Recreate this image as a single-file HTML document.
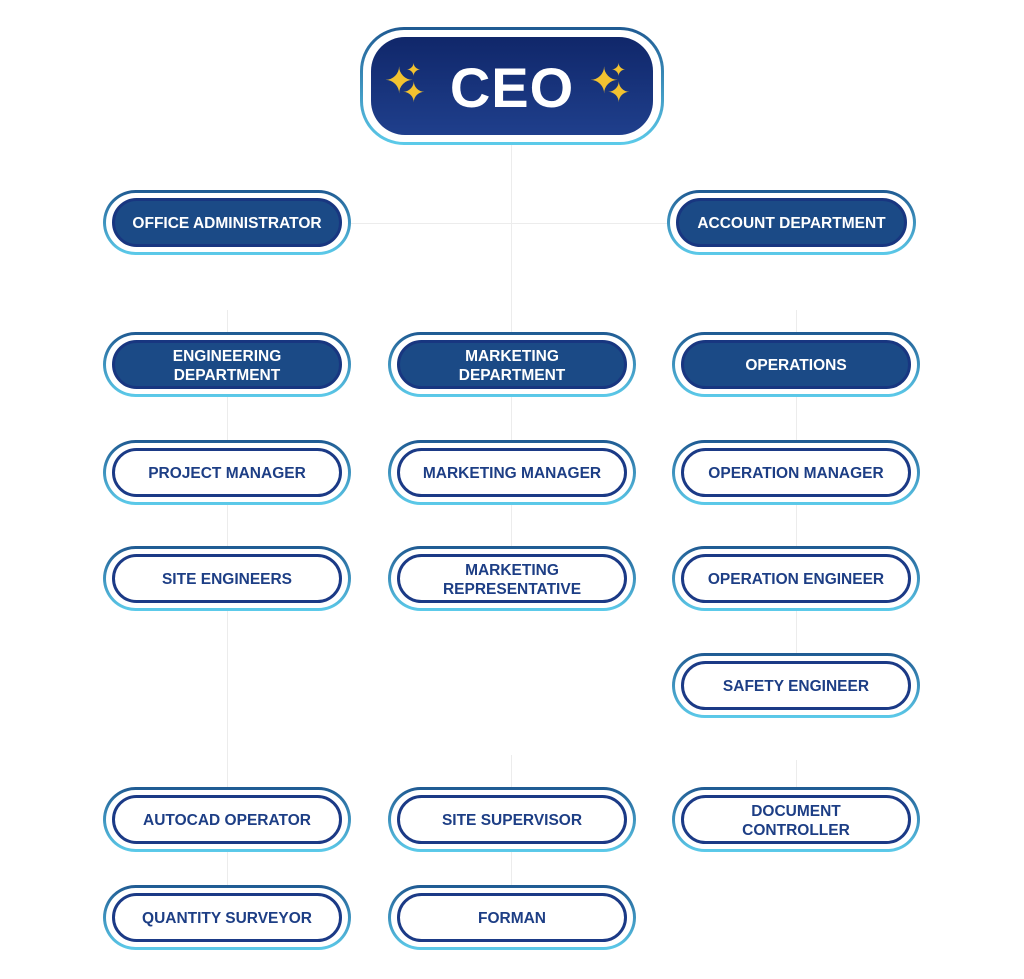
<!DOCTYPE html>
<html><head><meta charset="utf-8"><style>
body{margin:0;width:1024px;height:979px;background:#fff;position:relative;overflow:hidden;font-family:"Liberation Sans",sans-serif}
.n{position:absolute;border-radius:34px;background:linear-gradient(#1f5a92,#5ccbea)}
.n .w{position:absolute;left:3px;top:3px;right:3px;bottom:3px;border-radius:31px;background:#fff}
.n .p{position:absolute;left:9px;top:8px;right:9px;bottom:8px;border-radius:26px;border:3px solid #1b3a86;display:flex;align-items:center;justify-content:center;text-align:center;font-weight:bold;font-size:15.5px;line-height:19px;color:#1d3e85;background:#fff;box-sizing:border-box;padding-top:2px}
.n.d .p{background:#1b4a86;color:#fff;border-color:#183680}
.l{position:absolute;background:#ececec}
.star{color:#f2c230;position:absolute;line-height:1}
</style></head><body>
<div class="l" style="left:511px;top:145px;width:1px;height:187px"></div>
<div class="l" style="left:351px;top:223px;width:316px;height:1px"></div>
<div class="l" style="left:227px;top:310px;width:1px;height:22px"></div>
<div class="l" style="left:796px;top:310px;width:1px;height:22px"></div>
<div class="l" style="left:227px;top:397px;width:1px;height:390px"></div>
<div class="l" style="left:511px;top:397px;width:1px;height:150px"></div>
<div class="l" style="left:796px;top:397px;width:1px;height:256px"></div>
<div class="l" style="left:511px;top:755px;width:1px;height:32px"></div>
<div class="l" style="left:796px;top:760px;width:1px;height:27px"></div>
<div class="l" style="left:227px;top:852px;width:1px;height:33px"></div>
<div class="l" style="left:511px;top:852px;width:1px;height:33px"></div>

<div class="n" style="left:360px;top:27px;width:304px;height:118px;border-radius:44px">
<div class="w" style="border-radius:41px"></div>
<div class="p" style="left:11px;top:10px;right:11px;bottom:10px;border-radius:34px;border:none;background:linear-gradient(#10276a,#1f3f8c);color:#fff;font-size:56px;line-height:60px;letter-spacing:1px;padding-top:4px">CEO</div>
<span class="star" style="left:24px;top:36px;font-size:36px">✦</span><span class="star" style="left:46px;top:34px;font-size:18px">✦</span><span class="star" style="left:42px;top:52px;font-size:28px">✦</span>
<span class="star" style="left:229px;top:36px;font-size:36px">✦</span><span class="star" style="left:251px;top:34px;font-size:18px">✦</span><span class="star" style="left:247px;top:52px;font-size:28px">✦</span>
</div>

<div class="n d" style="left:103px;top:190px;width:248px;height:65px"><div class="w"></div><div class="p">OFFICE ADMINISTRATOR</div></div>
<div class="n d" style="left:667px;top:190px;width:249px;height:65px"><div class="w"></div><div class="p">ACCOUNT DEPARTMENT</div></div>

<div class="n d" style="left:103px;top:332px;width:248px;height:65px"><div class="w"></div><div class="p">ENGINEERING<br>DEPARTMENT</div></div>
<div class="n d" style="left:388px;top:332px;width:248px;height:65px"><div class="w"></div><div class="p">MARKETING<br>DEPARTMENT</div></div>
<div class="n d" style="left:672px;top:332px;width:248px;height:65px"><div class="w"></div><div class="p">OPERATIONS</div></div>

<div class="n" style="left:103px;top:440px;width:248px;height:65px"><div class="w"></div><div class="p">PROJECT MANAGER</div></div>
<div class="n" style="left:388px;top:440px;width:248px;height:65px"><div class="w"></div><div class="p">MARKETING MANAGER</div></div>
<div class="n" style="left:672px;top:440px;width:248px;height:65px"><div class="w"></div><div class="p">OPERATION MANAGER</div></div>

<div class="n" style="left:103px;top:546px;width:248px;height:65px"><div class="w"></div><div class="p">SITE ENGINEERS</div></div>
<div class="n" style="left:388px;top:546px;width:248px;height:65px"><div class="w"></div><div class="p">MARKETING<br>REPRESENTATIVE</div></div>
<div class="n" style="left:672px;top:546px;width:248px;height:65px"><div class="w"></div><div class="p">OPERATION ENGINEER</div></div>

<div class="n" style="left:672px;top:653px;width:248px;height:65px"><div class="w"></div><div class="p">SAFETY ENGINEER</div></div>

<div class="n" style="left:103px;top:787px;width:248px;height:65px"><div class="w"></div><div class="p">AUTOCAD OPERATOR</div></div>
<div class="n" style="left:388px;top:787px;width:248px;height:65px"><div class="w"></div><div class="p">SITE SUPERVISOR</div></div>
<div class="n" style="left:672px;top:787px;width:248px;height:65px"><div class="w"></div><div class="p">DOCUMENT<br>CONTROLLER</div></div>

<div class="n" style="left:103px;top:885px;width:248px;height:65px"><div class="w"></div><div class="p">QUANTITY SURVEYOR</div></div>
<div class="n" style="left:388px;top:885px;width:248px;height:65px"><div class="w"></div><div class="p">FORMAN</div></div>
</body></html>
